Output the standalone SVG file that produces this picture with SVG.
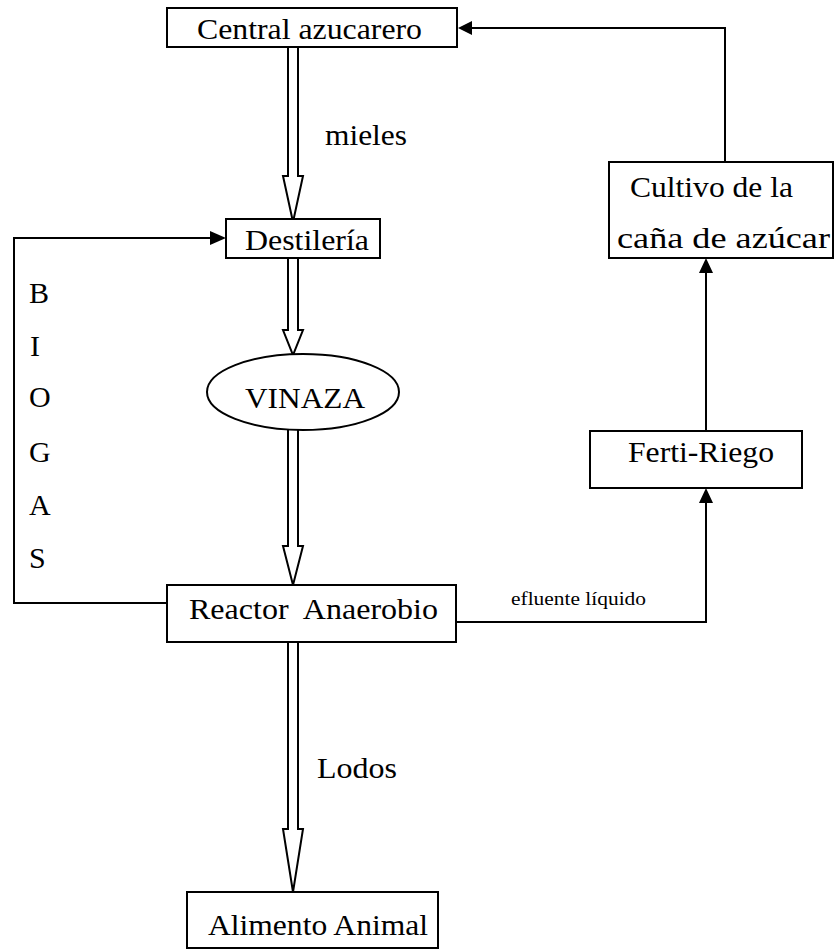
<svg xmlns="http://www.w3.org/2000/svg" width="834" height="949" viewBox="0 0 834 949">
<style>
.box{fill:#fff;stroke:#000;stroke-width:2}
.ln{fill:none;stroke:#000;stroke-width:2}
.hol{fill:#fff;stroke:#000;stroke-width:2;stroke-linejoin:miter}
.ah{fill:#000;stroke:none}
</style>
<rect width="834" height="949" fill="#fff"/>
<g font-family="'Liberation Serif', 'Times New Roman', 'DejaVu Serif', serif" font-size="30" fill="#000">
<g id="connectors">
<path class="hol" d="M288,47 V176 H283 L293,222 L303,176 H298 V47"/>
<path class="hol" d="M288,258 V330 H283 L293,355 L303,330 H298 V258"/>
<path class="hol" d="M288,425 V546 H283 L293,585 L303,546 H298 V425"/>
<path class="hol" d="M288,642 V829 H283 L293,892 L303,829 H298 V642"/>
<polyline class="ln" points="168,603 14,603 14,238 212,238"/>
<polygon class="ah" points="226,238 210,231 210,245"/>
<polyline class="ln" points="456,622 706,622 706,500"/>
<polygon class="ah" points="706,488 699,503 713,503"/>
<line class="ln" x1="706" y1="431" x2="706" y2="270"/>
<polygon class="ah" points="706,258 699,273 713,273"/>
<polyline class="ln" points="725,162 725,28 470,28"/>
<polygon class="ah" points="458,28 472,21 472,35"/>
<text x="325" y="145" textLength="82" lengthAdjust="spacingAndGlyphs">mieles</text>
<text x="317" y="778" textLength="80" lengthAdjust="spacingAndGlyphs">Lodos</text>
<text font-size="18" x="511" y="605" textLength="135" lengthAdjust="spacingAndGlyphs">efluente líquido</text>
<text x="29" y="303">B</text>
<text x="30" y="356">I</text>
<text x="29" y="407">O</text>
<text x="29" y="462">G</text>
<text x="29" y="515">A</text>
<text x="29" y="568">S</text>
</g>
<g id="central">
<rect class="box" x="167" y="8" width="290" height="39"/>
<text x="197" y="39" textLength="225" lengthAdjust="spacingAndGlyphs">Central azucarero</text>
</g>
<g id="destileria">
<rect class="box" x="226" y="219" width="154" height="39"/>
<text x="245" y="250" textLength="124" lengthAdjust="spacingAndGlyphs">Destilería</text>
</g>
<g id="vinaza">
<ellipse class="box" cx="303" cy="392" rx="96" ry="38"/>
<text x="245" y="408" textLength="120" lengthAdjust="spacingAndGlyphs">VINAZA</text>
</g>
<g id="reactor">
<rect class="box" x="167" y="585" width="289" height="57"/>
<text x="189" y="619" textLength="249" lengthAdjust="spacingAndGlyphs" xml:space="preserve">Reactor  Anaerobio</text>
</g>
<g id="alimento">
<rect class="box" x="187" y="892" width="251" height="56"/>
<text x="208" y="935" textLength="220" lengthAdjust="spacingAndGlyphs">Alimento Animal</text>
</g>
<g id="ferti">
<rect class="box" x="590" y="431" width="212" height="57"/>
<text x="628" y="462" textLength="146" lengthAdjust="spacingAndGlyphs">Ferti-Riego</text>
</g>
<g id="cultivo">
<rect class="box" x="609" y="162" width="224" height="96"/>
<text x="630" y="197" textLength="163" lengthAdjust="spacingAndGlyphs">Cultivo de la</text>
<text x="617" y="248" textLength="213" lengthAdjust="spacingAndGlyphs">caña de azúcar</text>
</g>
</g>
</svg>
